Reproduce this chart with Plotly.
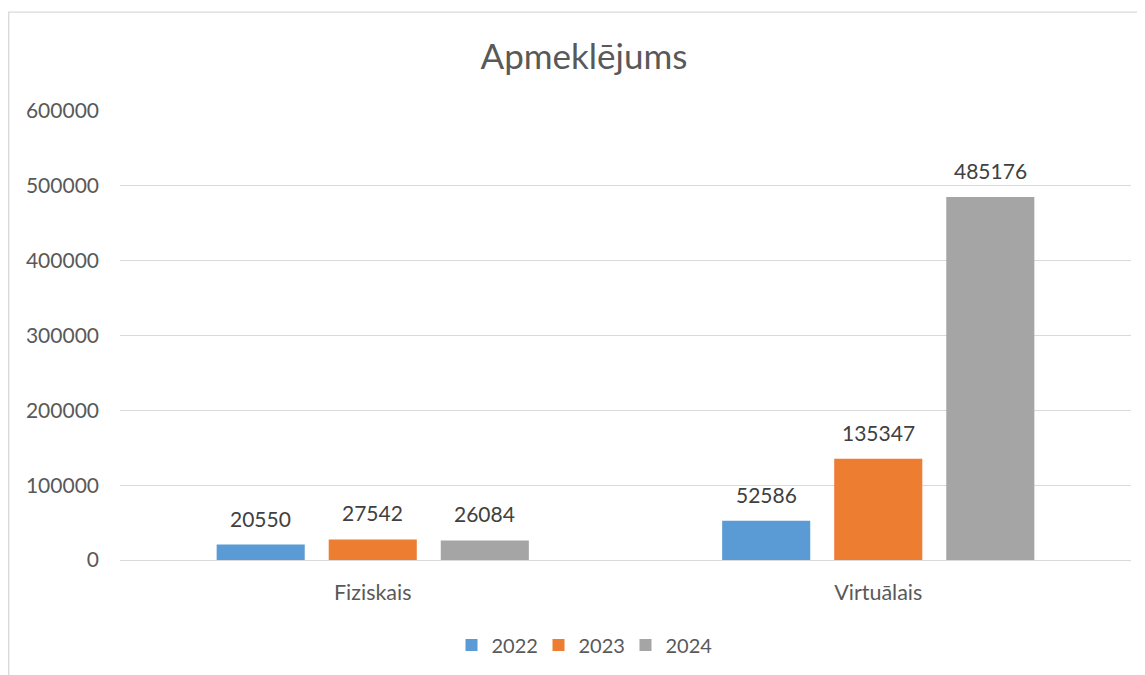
import plotly.graph_objects as go

categories = ["Fiziskais", "Virtuālais"]
years = ["2022", "2023", "2024"]
values_2022 = [20550, 52586]
values_2023 = [27542, 135347]
values_2024 = [26084, 485176]
colors = ["#5B9BD5", "#ED7D31", "#A5A5A5"]
y_ticks = [0, 100000, 200000, 300000, 400000, 500000, 600000]

FONT = "Lato, Open Sans, sans-serif"
TXT = "#595959"
BARGAP = 0.335
GROUPGAP = 0.214

series = [values_2022, values_2023, values_2024]
xpos = list(range(len(categories)))

fig = go.Figure()
for name, vals, col in zip(years, series, colors):
    fig.add_trace(go.Bar(
        x=xpos, y=vals, name=name, marker=dict(color=col, line=dict(width=0)),
        hoverinfo="y",
    ))

# data labels above bars
slot = (1 - BARGAP) / len(series)
for j, vals in enumerate(series):
    off = (j - (len(series) - 1) / 2) * slot
    for i, v in enumerate(vals):
        fig.add_annotation(x=xpos[i] + off, y=v, text=str(v), showarrow=False,
                           xref="x", yref="y", yanchor="bottom", yshift=12,
                           font=dict(size=21, color="#404040", family=FONT))

# page has an 8px body margin in the screenshot
OFF = 8
W, H = 1145 - OFF, 675 - OFF
ml, mr, mt, mb = 120 - OFF, 14, 111 - OFF, 114
pw, ph = W - ml - mr, H - mt - mb

def px(x):
    return (x - OFF - ml) / pw

def py(y):
    return (H - mb - (y - OFF)) / ph

fig.add_shape(type="path", xref="paper", yref="paper",
              path=f"M {px(8.7)} {py(690)} L {px(8.7)} {py(12)} L {px(1160)} {py(12)}",
              line=dict(color="#D9D9D9", width=1.3))

fig.update_layout(
    width=W, height=H,
    margin=dict(l=ml, r=mr, t=mt, b=mb),
    paper_bgcolor="white", plot_bgcolor="white",
    font=dict(family=FONT, color=TXT),
    title=dict(text="Apmeklējums", x=px(584), xref="paper", xanchor="center",
               y=1 - (57 - OFF) / H, yanchor="middle",
               font=dict(size=35, color=TXT, family=FONT)),
    barmode="group", bargap=BARGAP, bargroupgap=GROUPGAP,
    showlegend=True,
    legend=dict(orientation="h", x=px(582), xanchor="center", y=py(645), yanchor="middle",
                font=dict(size=20, color=TXT, family=FONT),
                entrywidth=42, entrywidthmode="pixels",
                traceorder="normal"),
    xaxis=dict(range=[-0.5, len(categories) - 0.5], tickvals=xpos, ticktext=categories,
               showgrid=False, showline=False, zeroline=False, ticks="",
               tickfont=dict(size=21.5, color=TXT), ticklabelstandoff=17),
    yaxis=dict(range=[0, 600000], tickvals=y_ticks, ticktext=[str(v) for v in y_ticks],
               showgrid=True, gridcolor="#D9D9D9", gridwidth=1.3, zeroline=True,
               zerolinecolor="#D9D9D9", zerolinewidth=1.3, showline=False, ticks="",
               tickfont=dict(size=21, color=TXT), ticklabelstandoff=20),
)

fig.write_html("out.html")
